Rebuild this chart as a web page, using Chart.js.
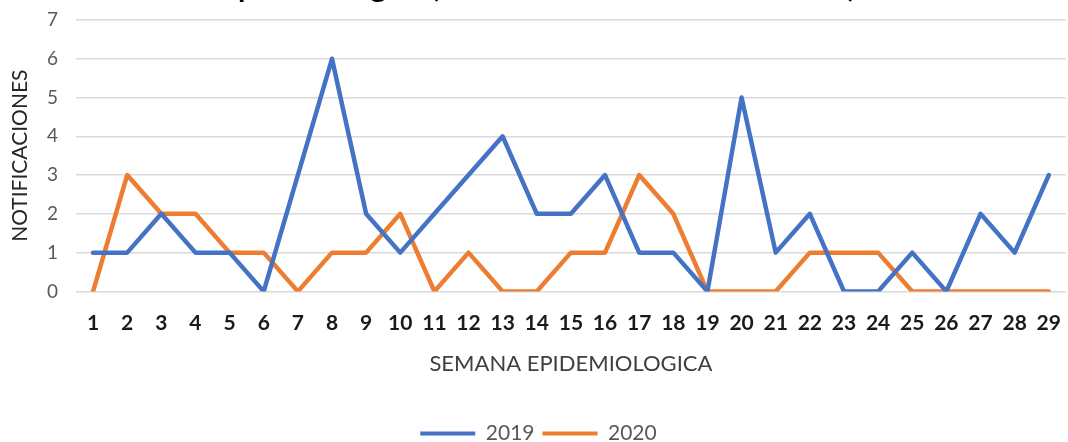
<!DOCTYPE html>
<html>
<head>
<meta charset="utf-8">
<script src="https://cdn.jsdelivr.net/npm/chart.js@4/dist/chart.umd.min.js"></script>
<style>
  html, body { margin: 0; padding: 0; background: #fff; overflow: hidden; }
  #wrap { position: absolute; left: 0; top: -42px; width: 1072px; height: 496px; }
</style>
</head>
<body>
<div id="wrap"><canvas id="chart"></canvas></div>
<script>
// semanas epidemiologicas 1..29
const semanas = ['1','2','3','4','5','6','7','8','9','10','11','12','13','14','15','16','17','18','19','20','21','22','23','24','25','26','27','28','29'];
const notif2019 = [1,1,2,1,1,0,3,6,2,1,2,3,4,2,2,3,1,1,0,5,1,2,0,0,1,0,2,1,3];
const notif2020 = [0,3,2,2,1,1,0,1,1,2,0,1,0,0,1,1,3,2,0,0,0,1,1,1,0,0,0,0,0];
const yTicks = [0,1,2,3,4,5,6,7];

const FONT = 'Lato, "Open Sans", sans-serif';

new Chart(document.getElementById('chart'), {
  type: 'line',
  data: {
    labels: semanas,
    datasets: [
      { label: '2019', data: notif2019, borderColor: '#4472C4', backgroundColor: '#4472C4', borderWidth: 4.5, pointRadius: 0, tension: 0, borderJoinStyle: 'round', borderCapStyle: 'round' },
      { label: '2020', data: notif2020, borderColor: '#ED7D31', backgroundColor: '#ED7D31', borderWidth: 4.5, pointRadius: 0, tension: 0, borderJoinStyle: 'round', borderCapStyle: 'round' }
    ]
  },
  options: {
    responsive: true, maintainAspectRatio: false, animation: false,
    layout: { padding: { left: 8, right: 3, top: 0, bottom: 0 } },
    plugins: {
      title: {
        display: true,
        text: 'Epidemiológica (Notificaciones de 2019 a 2020)',
        color: '#000',
        font: { family: FONT, size: 30, weight: 'bold' },
        padding: { top: 11, bottom: 15 }
      },
      legend: {
        position: 'bottom',
        labels: {
          color: '#595959',
          font: { family: FONT, size: 21 },
          boxWidth: 55, boxHeight: 4, padding: 8,
          generateLabels(chart) {
            const items = Chart.defaults.plugins.legend.labels.generateLabels(chart);
            items.forEach(i => { i.lineWidth = 0; i.fillStyle = i.strokeStyle; });
            return items;
          }
        }
      },
      tooltip: { enabled: false }
    },
    scales: {
      x: {
        offset: true,
        grid: { display: false },
        border: { display: false },
        ticks: { color: '#1a1a1a', font: { family: FONT, size: 21, weight: 'bold' }, padding: 11, maxRotation: 0, autoSkip: false },
        title: { display: true, text: 'SEMANA EPIDEMIOLOGICA', color: '#404040', font: { family: FONT, size: 22 }, padding: { top: 4, bottom: 38 } }
      },
      y: {
        min: 0, max: 7,
        afterBuildTicks(scale) { scale.ticks = yTicks.map(v => ({ value: v })); },
        afterFit(scale) { scale.width = 68; },
        grid: { color: '#d9d9d9', lineWidth: 1.5, drawTicks: false },
        border: { display: false },
        ticks: { color: '#595959', font: { family: FONT, size: 19 }, padding: 18 },
        title: { display: true, text: 'NOTIFICACIONES', color: '#262626', font: { family: FONT, size: 21 }, padding: { top: 0, bottom: 2 } }
      }
    }
  }
});
</script>
</body>
</html>
